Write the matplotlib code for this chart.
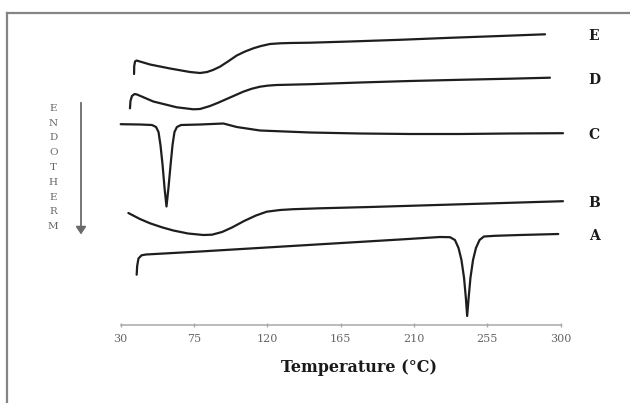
import matplotlib
matplotlib.use("Agg")
import matplotlib.pyplot as plt

# DSC thermograms: temperature (°C) and heat flow (arbitrary units, stacked)
temp_a = [39.8, 40.1, 40.9, 42.8, 45.5, 78.7, 109.3, 140.0, 170.7, 201.4, 225.9, 232.1,
          235.1, 237.3, 239.1, 240.7, 241.8, 242.6, 243.5, 244.6, 246.2, 248.0, 250.2,
          252.9, 259.7, 275.0, 298.5]
hf_a = [5.06, 5.93, 6.68, 7.00, 7.08, 7.38, 7.68, 7.98, 8.28, 8.58, 8.83, 8.81,
        8.53, 7.73, 6.53, 4.73, 2.73, 0.93, 2.73, 4.73, 6.53, 7.73, 8.53,
        8.88, 8.95, 9.03, 9.13]

temp_b = [34.7, 41.8, 48.0, 55.3, 62.3, 71.3, 80.7, 86.0, 92.2, 98.3, 105.7, 113.0,
          119.6, 127.8, 135.9, 152.3, 183.0, 213.7, 244.4, 275.0, 301.4]
hf_b = [11.23, 10.63, 10.20, 9.80, 9.48, 9.18, 9.03, 9.06, 9.33, 9.78, 10.43, 10.98,
        11.36, 11.53, 11.61, 11.70, 11.83, 11.98, 12.13, 12.28, 12.41]

temp_c = [30.0, 41.8, 49.2, 51.7, 53.2, 54.4, 55.7, 56.9, 58.1, 59.3, 60.6, 61.8, 63.0,
          64.5, 67.0, 78.7, 93.0, 101.2, 115.5, 146.2, 176.8, 207.5, 238.2, 268.9, 301.4]
hf_c = [20.11, 20.08, 20.03, 19.83, 19.33, 18.03, 16.03, 13.73, 11.88, 13.73, 16.03,
        18.03, 19.33, 19.83, 20.03, 20.08, 20.18, 19.83, 19.48, 19.28, 19.18, 19.13,
        19.13, 19.18, 19.21]

temp_d = [35.7, 36.0, 36.9, 38.5, 40.0, 50.0, 64.4, 74.6, 78.7, 84.8, 89.7, 95.0, 105.2,
          110.3, 115.5, 120.4, 125.7, 146.2, 176.8, 207.5, 238.2, 268.9, 293.4]
hf_d = [21.70, 22.43, 22.93, 23.13, 23.08, 22.38, 21.80, 21.60, 21.63, 21.93, 22.25, 22.63,
        23.36, 23.65, 23.86, 23.97, 24.03, 24.11, 24.28, 24.43, 24.55, 24.66, 24.76]

temp_e = [38.2, 38.3, 38.8, 39.7, 48.0, 60.3, 72.5, 78.7, 83.0, 86.6, 90.9, 95.8, 101.2,
          106.3, 111.4, 116.1, 121.6, 127.8, 133.9, 146.2, 170.7, 201.4, 232.1, 262.8, 290.4]
hf_e = [25.13, 25.93, 26.38, 26.48, 26.08, 25.68, 25.33, 25.23, 25.33, 25.53, 25.86, 26.38,
        26.98, 27.38, 27.70, 27.93, 28.13, 28.20, 28.23, 28.26, 28.38, 28.55, 28.75, 28.93,
        29.10]

curve_names = ["A", "B", "C", "D", "E"]
x_ticks = [30, 75, 120, 165, 210, 255, 300]
x_tick_labels = ["30", "75", "120", "165", "210", "255", "300"]
x_title = "Temperature (°C)"
side_letters = "ENDOTHERM"

W, H = 630, 403
fig = plt.figure(figsize=(W / 100, H / 100), dpi=100)
fig.patch.set_facecolor("white")


def fx(px):
    return px / W


def fy(py):
    return 1 - py / H


ax = fig.add_axes([fx(120.7), fy(325.3), fx(560.7) - fx(120.7), fy(25.3) - fy(325.3)])
ax.set_xlim(30, 300)
ax.set_ylim(0, 30)

line_kw = dict(color="#1e1e1e", lw=1.6, clip_on=False,
               solid_joinstyle="round", solid_capstyle="round")
series = [(temp_a, hf_a), (temp_b, hf_b), (temp_c, hf_c), (temp_d, hf_d), (temp_e, hf_e)]
for (t, h), name in zip(series, curve_names):
    ax.plot(t, h, **line_kw)
    ax.annotate(name, xy=(320.5, h[-1]), xytext=(0, -1.5), textcoords="offset points",
                ha="center", va="center", fontsize=10, fontweight="bold",
                family="DejaVu Serif", color="#1a1a1a", annotation_clip=False)

for side in ("left", "right", "top"):
    ax.spines[side].set_visible(False)
ax.spines["bottom"].set_color("#a8a8a8")
ax.spines["bottom"].set_linewidth(1.1)
ax.set_yticks([])
ax.set_xticks(x_ticks)
ax.set_xticklabels(x_tick_labels, family="DejaVu Serif", fontsize=8, color="#666666")
ax.tick_params(axis="x", direction="inout", length=3, width=1, color="#a8a8a8", pad=5)
ax.patch.set_alpha(0)

fig.text(fx(359), fy(367), x_title, ha="center", va="center", fontsize=11.5,
         fontweight="bold", family="DejaVu Serif", color="#1a1a1a")

# vertical "ENDOTHERM" marker with a downward arrow
for i, ch in enumerate(side_letters):
    fig.text(fx(53.3), fy(108.3 + i * 14.8), ch, ha="center", va="center", fontsize=7.5,
             family="DejaVu Serif", color="#666666")
fig.add_artist(matplotlib.patches.FancyArrowPatch(
    (fx(81), fy(102.7)), (fx(81), fy(234.5)), transform=fig.transFigure,
    arrowstyle="-|>,head_length=3,head_width=2", mutation_scale=1.5,
    color="#6a6a6a", lw=1.3, shrinkA=0, shrinkB=0))

# outer frame (runs past the right and bottom edges)
frame_kw = dict(color="#858585", lw=1.6, transform=fig.transFigure)
fig.add_artist(plt.Line2D([fx(7.3), fx(W + 5)], [fy(12.7), fy(12.7)], **frame_kw))
fig.add_artist(plt.Line2D([fx(7.3), fx(7.3)], [fy(12.7), fy(H + 5)], **frame_kw))

fig.savefig("out.png", dpi=100, facecolor="white")
